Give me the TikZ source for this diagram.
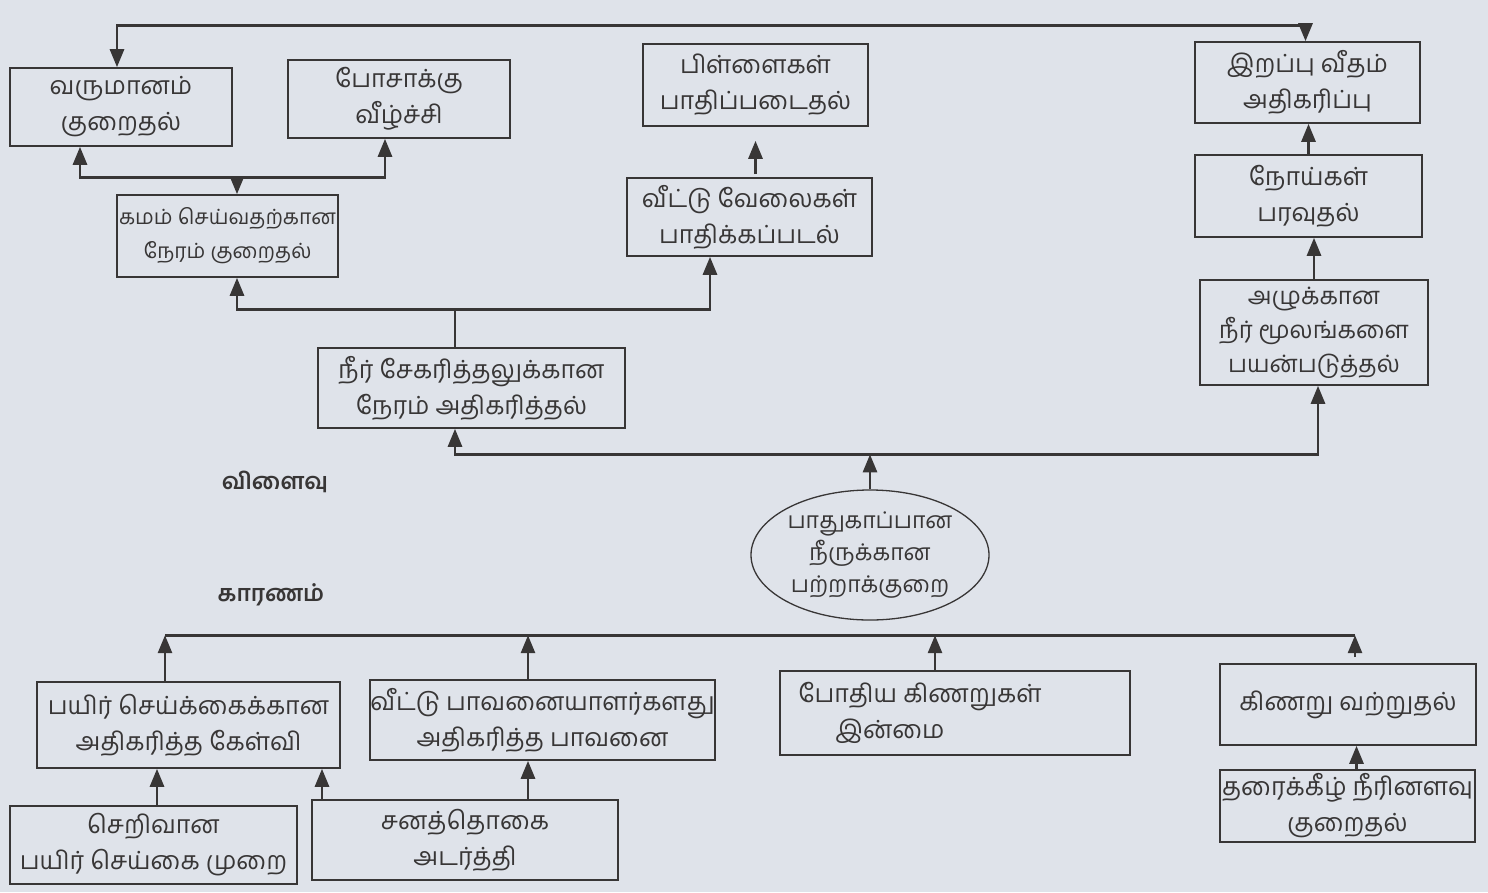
\documentclass[tikz,border=0pt]{standalone}
\usepackage{fontspec}
\newfontfamily\tam[Script=Tamil]{Hind Madurai}
\usetikzlibrary{arrows.meta,shapes.geometric,calc}
\definecolor{bg}{HTML}{DFE3EA}
\definecolor{ink}{HTML}{383636}
\begin{document}
\begin{tikzpicture}[x=1pt,y=-1pt,
  box/.style={draw=ink, line width=1.6pt, align=center, text=ink, inner sep=0pt,
    font=\tam\fontsize{25}{36}\selectfont},
  small/.style={font=\tam\fontsize{21}{34}\selectfont},
  ell/.style={ellipse, draw=ink, line width=1.3pt, align=center, text=ink, inner sep=0pt,
    minimum width=238pt, minimum height=130pt, font=\tam\fontsize{23}{32}\selectfont},
  conn/.style={draw=ink, line width=2.8pt},
  thin/.style={draw=ink, line width=1.8pt},
  arr/.style={conn, -{Triangle[length=18pt,width=14pt]}},
  both/.style={conn, {Triangle[length=18pt,width=14pt]}-{Triangle[length=18pt,width=14pt]}},
  lbl/.style={text=ink, font=\tam\bfseries\fontsize{23}{30}\selectfont}]
\fill[bg] (0,0) rectangle (1488,892);
\useasboundingbox (0,0) rectangle (1488,892);

% effects
\node[box, minimum width=222pt, minimum height=78pt] (A) at (121,107) {வருமானம்\\குறைதல்};
\node[box, minimum width=222pt, minimum height=78pt] (B) at (399,99) {போசாக்கு\\வீழ்ச்சி};
\node[box, minimum width=225pt, minimum height=82pt] (C) at (755.5,85) {பிள்ளைகள்\\பாதிப்படைதல்};
\node[box, minimum width=225pt, minimum height=81pt] (D) at (1307.5,82.5) {இறப்பு வீதம்\\அதிகரிப்பு};
\node[box, small, minimum width=221pt, minimum height=82pt] (E) at (227.5,236) {கமம் செய்வதற்கான\\நேரம் குறைதல்};
\node[box, minimum width=245pt, minimum height=78pt] (F) at (749.5,217) {வீட்டு வேலைகள்\\பாதிக்கப்படல்};
\node[box, minimum width=227pt, minimum height=82pt] (G) at (1308.5,196) {நோய்கள்\\பரவுதல்};
\node[box, minimum width=228pt, minimum height=105pt, font=\tam\fontsize{24}{34}\selectfont] (H) at (1314,332.5) {அழுக்கான\\நீர் மூலங்களை\\பயன்படுத்தல்};
\node[box, minimum width=307pt, minimum height=80pt] (I) at (471.5,388) {நீர் சேகரித்தலுக்கான\\நேரம் அதிகரித்தல்};

\node[lbl] (eff) at (275,482) {விளைவு};
\node[lbl] (cau) at (271,595) {காரணம்};

% central problem
\node[ell] (S) at (870,555) {பாதுகாப்பான\\நீருக்கான\\பற்றாக்குறை};

% causes
\node[box, minimum width=303pt, minimum height=86pt] (J) at (188.5,725) {பயிர் செய்க்கைக்கான\\அதிகரித்த கேள்வி};
\node[box, minimum width=345pt, minimum height=80pt] (K) at (542.5,720) {வீட்டு பாவனையாளர்களது\\அதிகரித்த பாவனை};
\node[box, minimum width=350pt, minimum height=84pt] (L) at (955,713) {போதிய கிணறுகள்\hspace*{70pt}\\இன்மை\hspace*{130pt}};
\node[box, minimum width=256pt, minimum height=81pt] (M) at (1348,704.5) {கிணறு வற்றுதல்};
\node[box, minimum width=287pt, minimum height=78pt] (N) at (153.5,845) {செறிவான\\பயிர் செய்கை முறை};
\node[box, minimum width=306pt, minimum height=80pt] (O) at (465,840) {சனத்தொகை\\அடர்த்தி};
\node[box, minimum width=255pt, minimum height=72pt] (P) at (1347.5,806) {தரைக்கீழ் நீரினளவு\\குறைதல்};

% top connector A <-> D
\draw[both] ([xshift=-4pt]A.north) -- ++(0,-42) -| ([xshift=-2pt]D.north);

% E -> A, B
\path ([xshift=9.5pt]E.north) ++(0,-17) coordinate (jE);
\draw[arr] (jE) -- ([xshift=9.5pt]E.north);
\draw[both] ([xshift=-41pt]A.south) |- (jE) -| ([xshift=-14pt]B.south);

% I -> E, F
\path ([xshift=-16.5pt]I.north) ++(0,-38) coordinate (jI);
\draw[thin] ([xshift=-16.5pt]I.north) -- (jI);
\draw[both] ([xshift=9.5pt]E.south) |- (jI) -| ([xshift=-39.5pt]F.south);

% F -> C
\draw[arr, shorten <=3pt, shorten >=14pt] (F.north -| C.south) -- (C.south);

% H -> G -> D
\draw[arr] (G.north) -- (G.north |- D.south);
\draw[arr] (H.north) -- (H.north |- G.south);

% S -> I, H
\path (S.north) ++(0,-35) coordinate (jS);
\draw[arr] (S.north) -- (jS);
\draw[both] ([xshift=-16.5pt]I.south) |- (jS) -| ([xshift=4pt]H.south);

% causes -> S
\path ([xshift=-23.5pt]J.north) ++(0,-46) coordinate (bJ);
\path ([xshift=-14.5pt]K.north) ++(0,-44) coordinate (bK);
\path ([xshift=-20pt]L.north) ++(0,-35) coordinate (bL);
\path ([xshift=7pt]M.north) ++(0,-28) coordinate (bM);
\draw[conn] (bJ) -- (bM);
\draw[arr] ([xshift=-23.5pt]J.north) -- (bJ);
\draw[arr] ([xshift=-14.5pt]K.north) -- (bK);
\draw[arr] ([xshift=-20pt]L.north) -- (bL);
\draw[arr, shorten <=6pt] ([xshift=7pt]M.north) -- (bM);

% lower causes
\coordinate (n1) at ([xshift=3.5pt]N.north);
\coordinate (o1) at ([xshift=-143pt]O.north);
\coordinate (o2) at ([xshift=63pt]O.north);
\coordinate (p1) at ([xshift=9pt]P.north);
\draw[arr] (n1) -- (n1 |- J.south);
\draw[arr] (o1) -- (o1 |- J.south);
\draw[arr] (o2) -- (o2 |- K.south);
\draw[arr] (p1) -- (p1 |- M.south);
\end{tikzpicture}
\end{document}
